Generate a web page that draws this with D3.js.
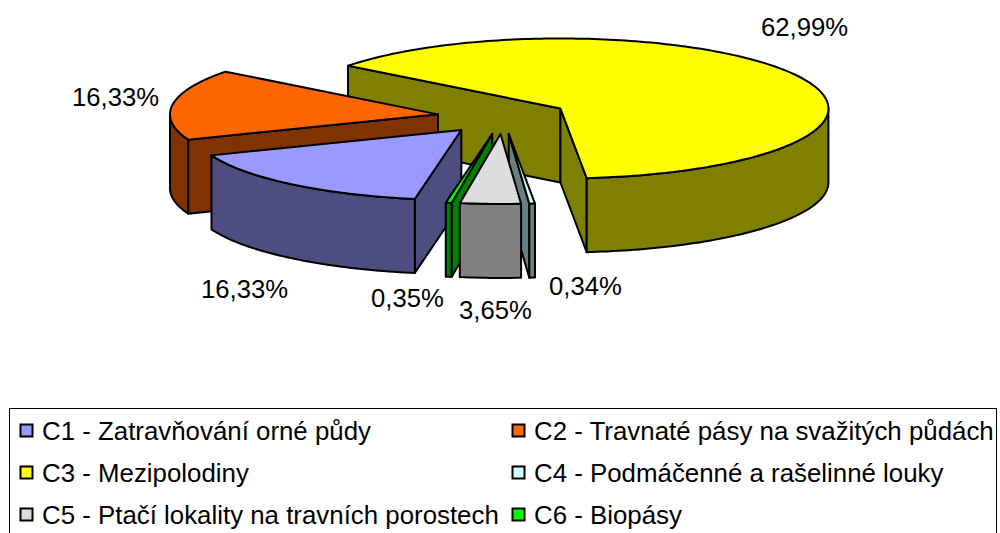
<!DOCTYPE html>
<html><head><meta charset="utf-8">
<script src="https://cdn.jsdelivr.net/npm/d3@7/dist/d3.min.js"></script>
<style>html,body{margin:0;padding:0;background:#fff;overflow:hidden}svg{display:block}text{font-family:"Liberation Sans",Arial,sans-serif;fill:#000}</style>
</head><body><svg id="c" width="1000" height="533"></svg>
<script>
const categories = ["C1 - Zatravňování orné půdy","C2 - Travnaté pásy na svažitých půdách","C3 - Mezipolodiny","C4 - Podmáčenné a rašelinné louky","C5 - Ptačí lokality na travních porostech","C6 - Biopásy"];
const values = [16.33,16.33,62.99,0.34,3.65,0.35];
const valueLabels = ["16,33%","16,33%","62,99%","0,34%","3,65%","0,35%"];
const topColors = ["#9999FF","#FF6600","#FFFF00","#CCFFFF","#DDDDDD","#00FF00"];
const sideColors = ["#4D4D80","#803300","#808000","#668080","#808080","#008000"];

// layout (not data)
const labelPos = [[201,298],[72,106],[761,36],[549,295],[459,319],[371,307]];
const legendPos = [[20,431],[512,431],[20,473],[512,473],[20,515],[512,515]];
const paintOrder = [2,1,0,5,3,4];
const cx=503, cy=116.8, rx=268, ry=70, depth=74, explode=0.245, firstAngle=190*Math.PI/180;

const x = d3.scaleLinear().domain([-1,1]).range([cx-rx,cx+rx]);
const y = d3.scaleLinear().domain([-1,1]).range([cy-ry,cy+ry]);
const svg = d3.select("#c");
const arcs = d3.pie().sort(null).startAngle(firstAngle).endAngle(firstAngle+2*Math.PI)(values);
const line = d3.line();
const HALF = Math.PI;

function pt(a,ox,oy,r=1,dz=0){ return [x(ox+r*Math.sin(a)), y(oy-r*Math.cos(a))+dz]; }
function range(a0,a1){ const n=Math.max(2,Math.ceil((a1-a0)/0.02)); return d3.range(n+1).map(i=>a0+(a1-a0)*i/n); }
const g = svg.append("g").attr("stroke","#000").attr("stroke-width",2).attr("stroke-linejoin","round");

paintOrder.forEach(i=>{
  const d=arcs[i], mid=(d.startAngle+d.endAngle)/2;
  const ox=explode*Math.sin(mid), oy=-explode*Math.cos(mid);
  const wall=(a)=>{
    const ap=pt(0,ox,oy,0), p=pt(a,ox,oy);
    return [ap,p,[p[0],p[1]+depth],[ap[0],ap[1]+depth]];
  };
  const side=sideColors[i];
  // side walls facing the viewer
  if(-Math.cos(d.startAngle-HALF/2)>0) g.append("path").attr("d",line(wall(d.startAngle))+"Z").attr("fill",side);
  if(-Math.cos(d.endAngle+HALF/2)>0) g.append("path").attr("d",line(wall(d.endAngle))+"Z").attr("fill",side);
  // outer rim (front half of the ellipse only)
  [-2,0,2].forEach(k=>{
    const lo=Math.max(d.startAngle,HALF/2+k*HALF), hi=Math.min(d.endAngle,3*HALF/2+k*HALF);
    if(hi>lo){
      const as=range(lo,hi);
      const top=as.map(a=>pt(a,ox,oy));
      const bot=as.slice().reverse().map(a=>pt(a,ox,oy,1,depth));
      g.append("path").attr("d",line(top.concat(bot))+"Z").attr("fill",side);
    }
  });
  // top face
  const ring=[pt(0,ox,oy,0)].concat(range(d.startAngle,d.endAngle).map(a=>pt(a,ox,oy)));
  g.append("path").attr("d",line(ring)+"Z").attr("fill",topColors[i]);
});

// value labels
svg.append("g").selectAll("text").data(valueLabels).join("text")
  .attr("x",(d,i)=>labelPos[i][0]).attr("y",(d,i)=>labelPos[i][1])
  .attr("font-size",25.7).text(d=>d);

// legend
svg.append("rect").attr("x",9.5).attr("y",408.5).attr("width",987).attr("height",140)
  .attr("fill","#fff").attr("stroke","#000").attr("stroke-width",1);
const lg=svg.append("g").selectAll("g").data(categories).join("g")
  .attr("transform",(d,i)=>`translate(${legendPos[i][0]},${legendPos[i][1]})`);
lg.append("rect").attr("x",0.5).attr("y",-6.5).attr("width",12).attr("height",12)
  .attr("fill",(d,i)=>topColors[i]).attr("stroke","#000").attr("stroke-width",2);
lg.append("text").attr("x",22).attr("y",8.5).attr("font-size",25.85).text(d=>d);
</script></body></html>
